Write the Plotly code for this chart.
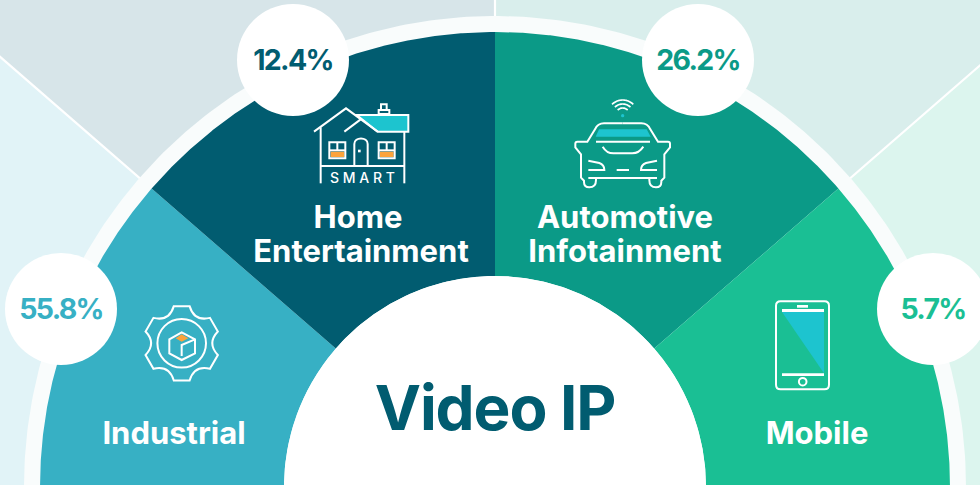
import numpy as np
import plotly.graph_objects as go

# ---- data ----
categories = ["Industrial", "Home Entertainment", "Automotive Infotainment", "Mobile"]
shares = [55.8, 12.4, 26.2, 5.7]
span_deg = [41, 49, 49, 41]
wedge_colors = ["#37b0c4", "#015c70", "#0b9a87", "#1abf94"]
back_colors = ["#e1f3f7", "#d7e5e9", "#d9eeec", "#dcf5ee"]
share_xy_x = [61, 293, 698, 933]
share_xy_y = [309, 60, 60, 309]
label_x = [174, 358, 361, 625, 625, 817]
label_y = [436, 220, 254, 220, 254, 436]
label_lines = ["Industrial", "Home", "Entertainment", "Automotive", "Infotainment", "Mobile"]

CX, CY = 495, 487
R_HOLE, R_OUT, R_RING, R_BACK = 211, 455, 471, 1000
TEAL, ORANGE = "#1dc4cf", "#fba33c"


def annular(r0, r1, a0, a1, n=240):
    t = np.radians(np.linspace(a0, a1, n))
    xs = np.concatenate([CX + r1 * np.cos(t), CX + r0 * np.cos(t[::-1])])
    ys = np.concatenate([CY - r1 * np.sin(t), CY - r0 * np.sin(t[::-1])])
    return np.append(xs, xs[0]), np.append(ys, ys[0])


fig = go.Figure()
edges = 180 - np.cumsum([0] + span_deg)

# pale sectors behind the ring
for i, c in enumerate(back_colors):
    x, y = annular(0, R_BACK, edges[i], edges[i + 1], 60)
    fig.add_trace(go.Scatter(x=x, y=y, mode="lines", fill="toself", fillcolor=c,
                             line=dict(width=0), hoverinfo="skip", showlegend=False))
# white dividers between pale sectors
for e in edges[1:-1]:
    a = np.radians(e)
    fig.add_trace(go.Scatter(x=[CX, CX + R_BACK * np.cos(a)], y=[CY, CY - R_BACK * np.sin(a)],
                             mode="lines", line=dict(color="white", width=2.2),
                             hoverinfo="skip", showlegend=False))
# ring
x, y = annular(0, R_RING, 0, 180)
fig.add_trace(go.Scatter(x=x, y=y, mode="lines", fill="toself", fillcolor="#f9fcfc",
                         line=dict(width=0), hoverinfo="skip", showlegend=False))
# wedges
for i, c in enumerate(wedge_colors):
    x, y = annular(R_HOLE, R_OUT, edges[i], edges[i + 1])
    fig.add_trace(go.Scatter(x=x, y=y, mode="lines", fill="toself", fillcolor=c,
                             line=dict(width=0), name=categories[i], hoverinfo="name", showlegend=False))
# centre disc
x, y = annular(0, R_HOLE, 0, 180)
fig.add_trace(go.Scatter(x=x, y=y, mode="lines", fill="toself", fillcolor="white",
                         line=dict(width=0), hoverinfo="skip", showlegend=False))
# share bubbles
fig.add_trace(go.Scatter(
    x=share_xy_x, y=share_xy_y, mode="markers",
    marker=dict(size=112, color="white", line=dict(width=0)),
    hoverinfo="skip", showlegend=False, cliponaxis=False))
fig.add_trace(go.Scatter(
    x=share_xy_x, y=[v + 3 for v in share_xy_y], mode="text",
    text=[f"{v:.1f}%" for v in shares], textposition="middle center",
    textfont=dict(family="Inter", size=28.5, weight=700, color=wedge_colors),
    hoverinfo="skip", showlegend=False, cliponaxis=False))
# labels
fig.add_trace(go.Scatter(
    x=label_x, y=label_y, mode="text", text=label_lines, textposition="middle center",
    textfont=dict(family="Inter", size=31, weight=700, color="white"),
    hoverinfo="skip", showlegend=False))
fig.add_trace(go.Scatter(
    x=[495], y=[414], mode="text", text=["Video IP"], textposition="middle center",
    textfont=dict(family="Inter", size=62, weight=700, color="#015c70"),
    hoverinfo="skip", showlegend=False))
fig.add_trace(go.Scatter(
    x=[362.5], y=[179], mode="text", text=["S M A R T"], textposition="middle center",
    textfont=dict(family="Inter", size=14, weight=500, color="white"),
    hoverinfo="skip", showlegend=False))

shapes = []


def add_path(path, stroke="white", width=2.0, fill=None):
    s = dict(type="path", path=path, xref="x", yref="y", layer="above",
             line=dict(color=stroke, width=width))
    if stroke is None:
        s["line"] = dict(width=0)
    if fill:
        s["fillcolor"] = fill
    shapes.append(s)


def poly(pts, close=False):
    d = "M" + " L".join(f"{x:.2f},{y:.2f}" for x, y in pts)
    return d + (" Z" if close else "")


def zoomed(ox, oy):
    return lambda pts: [(ox + px / 3, oy + py / 3) for px, py in pts]


def rect(x0, y0, x1, y1):
    return poly([(x0, y0), (x1, y0), (x1, y1), (x0, y1)], True)


# --- house icon ---
Z = zoomed(300, 90)
add_path(poly(Z([(170, 75), (325, 75), (325, 125), (233, 125)]), True), fill=TEAL)
add_path(poly(Z([(42, 125), (138, 55), (233, 125)])))
add_path(poly(Z([(133, 125), (182, 88)])))
add_path(poly(Z([(62, 112), (62, 280)])))
add_path(poly(Z([(313, 125), (313, 280)])))
add_path(poly(Z([(62, 228), (313, 228)])))
add_path(poly(Z([(236, 72), (268, 72), (268, 60), (236, 60)]), True))
add_path(poly(Z([(243, 60), (243, 43), (260, 43), (260, 60)])))
for wx in (88, 236):
    add_path(poly(Z([(wx + 4, 185), (wx + 45, 185), (wx + 45, 201), (wx + 4, 201)]), True), stroke=None, fill=ORANGE)
    add_path(poly(Z([(wx, 157), (wx + 48, 157), (wx + 48, 205), (wx, 205)]), True))
    add_path(poly(Z([(wx, 181), (wx + 48, 181)])))
    add_path(poly(Z([(wx + 24, 157), (wx + 24, 181)])))
p = Z([(163, 228), (163, 162), (203, 162), (203, 228), (183, 140)])
add_path(f"M{p[0][0]:.2f},{p[0][1]:.2f} L{p[1][0]:.2f},{p[1][1]:.2f} "
         f"C{p[1][0]:.2f},{p[4][1]:.2f} {p[2][0]:.2f},{p[4][1]:.2f} {p[2][0]:.2f},{p[2][1]:.2f} "
         f"L{p[3][0]:.2f},{p[3][1]:.2f}")
add_path(poly(Z([(174, 179), (182, 179), (182, 187), (174, 187)]), True), stroke=None, fill="white")

# --- car icon ---
Z = zoomed(560, 90)
MID = 188


def cpath(segs, mirror=False):
    out = []
    for cmd, pts in segs:
        if mirror:
            pts = [(2 * MID - a, b) for a, b in pts]
        pts = Z(pts)
        out.append(cmd + " ".join(f"{a:.2f},{b:.2f}" for a, b in pts))
    return " ".join(out)


add_path(poly(Z([(117, 118), (260, 118), (272, 140), (107, 140)]), True), stroke=None, fill=TEAL)
for m in (False, True):
    add_path(cpath([("M", [(188, 100)]), ("L", [(132, 100)]), ("Q", [(113, 100), (105, 118)]),
                    ("L", [(82, 155)]), ("L", [(52, 155)]), ("Q", [(46, 155), (46, 161)]),
                    ("L", [(46, 172)]), ("L", [(63, 193)]), ("L", [(63, 263)]),
                    ("L", [(72, 272)]), ("L", [(72, 276)]), ("Q", [(72, 292), (88, 292)]),
                    ("Q", [(108, 292), (108, 270)]), ("L", [(108, 264)])], m))
    add_path(cpath([("M", [(85, 212)]), ("L", [(118, 219)]), ("Q", [(133, 224), (133, 240)]),
                    ("L", [(85, 240)])], m))
add_path(poly(Z([(85, 264), (291, 264)])))
add_path(poly(Z([(108, 155), (270, 155)])))
add_path(poly(Z([(170, 240), (207, 240)])))
add_path(cpath([("M", [(128, 170)]), ("Q", [(140, 190), (160, 190)]), ("L", [(217, 190)]),
                ("Q", [(237, 190), (250, 170)])]))
for r in (21, 33, 45):
    t = np.radians(np.linspace(45, 135, 24))
    add_path(poly(Z(list(zip(188 + r * np.cos(t), 75 - r * np.sin(t))))), width=1.7)
shapes.append(dict(type="circle", xref="x", yref="y", layer="above",
                   x0=560 + 183 / 3, x1=560 + 193 / 3, y0=90 + 72 / 3, y1=90 + 82 / 3,
                   fillcolor=TEAL, line=dict(width=0)))

# --- gear icon ---
GX, GY = 181.7, 343.3
d = ""
for k in range(6):
    a = 90 + 60 * k
    p0 = (GX + 38 * np.cos(np.radians(a - 12)), GY - 38 * np.sin(np.radians(a - 12)))
    p1 = (GX + 38 * np.cos(np.radians(a + 12)), GY - 38 * np.sin(np.radians(a + 12)))
    cn = (GX + 25 * np.cos(np.radians(a + 30)), GY - 25 * np.sin(np.radians(a + 30)))
    p2 = (GX + 38 * np.cos(np.radians(a + 48)), GY - 38 * np.sin(np.radians(a + 48)))
    d += ("M" if k == 0 else "L") + f"{p0[0]:.2f},{p0[1]:.2f} L{p1[0]:.2f},{p1[1]:.2f} "
    d += f"Q{cn[0]:.2f},{cn[1]:.2f} {p2[0]:.2f},{p2[1]:.2f} "
add_path(d + "Z")
shapes.append(dict(type="circle", xref="x", yref="y", layer="above",
                   x0=GX - 24.3, x1=GX + 24.3, y0=GY - 24.3, y1=GY + 24.3,
                   line=dict(color="white", width=2.0)))
Z = zoomed(130, 300)
add_path(poly(Z([(155, 103), (175, 115), (155, 125), (137, 115)]), True), stroke=None, fill=ORANGE)
add_path(poly(Z([(155, 97), (195, 118), (195, 160), (155, 180), (118, 160), (118, 118)]), True))
add_path(poly(Z([(155, 168), (155, 135), (195, 118)])))

# --- phone icon ---
Z = zoomed(760, 290)
add_path(poly(Z([(66, 66), (192, 66), (192, 250)]), True), stroke=None, fill=TEAL)
x0, y0, x1, y1, q = 776, 301.3, 829, 389.3, 4.5
add_path(f"M{x0 + q},{y0} L{x1 - q},{y0} Q{x1},{y0} {x1},{y0 + q} L{x1},{y1 - q} Q{x1},{y1} {x1 - q},{y1} "
         f"L{x0 + q},{y1} Q{x0},{y1} {x0},{y1 - q} L{x0},{y0 + q} Q{x0},{y0} {x0 + q},{y0} Z")
for bar in ((782, 309, 824, 312), (782, 373.3, 824, 376), (797, 305, 808, 307.7)):
    add_path(rect(*bar), stroke=None, fill="white")
shapes.append(dict(type="circle", xref="x", yref="y", layer="above",
                   x0=798.9, x1=806.5, y0=377.9, y1=385.5, line=dict(color="white", width=2.0)))

fig.update_layout(
    width=980, height=485, margin=dict(l=0, r=0, t=0, b=0),
    paper_bgcolor="white", plot_bgcolor="white", shapes=shapes, showlegend=False,
    xaxis=dict(range=[0, 980], visible=False, fixedrange=True),
    yaxis=dict(range=[485, 0], visible=False, fixedrange=True),
)
post = """
document.body.style.margin='0';document.documentElement.style.overflow='hidden';
document.querySelectorAll('.textpoint text').forEach(function(t){
  var s=parseFloat(t.style.fontSize);
  if(s>60){t.style.letterSpacing='-1.1px';}
  else if(s>28&&s<29){t.style.letterSpacing='-1.7px';}
});
"""
fig.write_html("out.html", config=dict(displayModeBar=False), post_script=post)
